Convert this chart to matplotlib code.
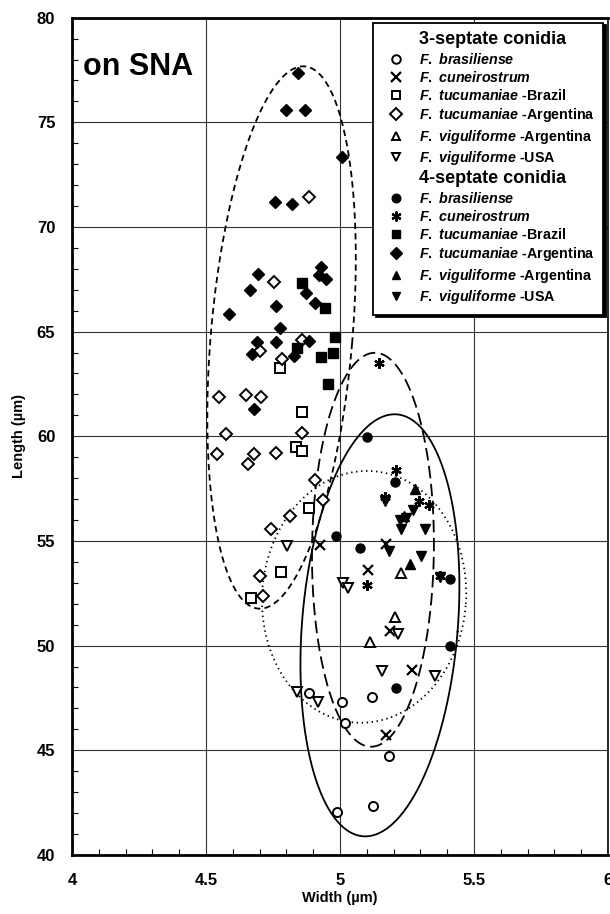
import numpy as np
import matplotlib
matplotlib.use('Agg')
import matplotlib.pyplot as plt
from matplotlib.lines import Line2D

plt.rcParams['font.family'] = ['Liberation Sans', 'DejaVu Sans']
plt.rcParams['font.weight'] = 'bold'
plt.rcParams['mathtext.fontset'] = 'custom'
plt.rcParams['mathtext.it'] = 'Liberation Sans:style=italic:weight=bold'
plt.rcParams['mathtext.rm'] = 'Liberation Sans:weight=bold'
plt.rcParams['lines.scale_dashes'] = False

# 3-septate conidia (open symbols): width, length (um)
bras3_w = [4.885, 5.006, 5.12, 5.02, 5.184, 5.124, 4.99]
bras3_l = [47.72, 47.29, 47.53, 46.28, 44.72, 42.33, 42.06]
cune3_w = [4.925, 5.173, 5.105, 5.185, 5.27, 5.173]
cune3_l = [54.82, 54.85, 53.62, 50.70, 48.84, 45.73]
tucB3_w = [4.777, 4.859, 4.835, 4.86, 4.884, 4.78, 4.668]
tucB3_l = [63.27, 61.15, 59.47, 59.31, 56.57, 53.50, 52.26]
tucA3_w = [4.885, 4.755, 4.70, 4.86, 4.782, 4.549, 4.65, 4.705, 4.574, 4.859,
           4.54, 4.678, 4.658, 4.76, 4.906, 4.935, 4.813, 4.742, 4.701, 4.711]
tucA3_l = [71.44, 67.38, 64.07, 64.60, 63.67, 61.87, 61.95, 61.87, 60.11, 60.18,
           59.15, 59.15, 58.67, 59.20, 57.89, 56.97, 56.20, 55.58, 53.33, 52.37]
vigA3_w = [5.229, 5.204, 5.111]
vigA3_l = [53.46, 51.39, 50.16]
vigU3_w = [4.803, 5.012, 5.03, 5.217, 5.155, 5.353, 4.838, 4.919]
vigU3_l = [54.77, 52.98, 52.74, 50.54, 48.79, 48.57, 47.80, 47.32]

# 4-septate conidia (filled symbols)
bras4_w = [5.099, 5.204, 4.986, 5.074, 5.409, 5.409, 5.208]
bras4_l = [59.97, 57.80, 55.26, 54.66, 53.17, 49.99, 47.99]
cune4_w = [5.146, 5.21, 5.169, 5.294, 5.331, 5.099, 5.372]
cune4_l = [63.49, 58.41, 57.10, 56.89, 56.73, 52.90, 53.35]
tucB4_w = [4.857, 4.943, 4.983, 4.838, 4.975, 4.931, 4.956]
tucB4_l = [67.32, 66.11, 64.74, 64.20, 63.96, 63.78, 62.52]
tucA4_w = [4.844, 4.797, 4.871, 5.009, 4.756, 4.822, 4.695, 4.665, 4.872, 4.93, 4.92,
           4.946, 4.906, 4.585, 4.761, 4.778, 4.69, 4.67, 4.761, 4.885, 4.829, 4.678]
tucA4_l = [77.34, 75.58, 75.58, 73.35, 71.20, 71.09, 67.74, 66.97, 66.86, 68.10, 67.70,
           67.50, 66.36, 65.84, 66.22, 65.18, 64.51, 63.94, 64.51, 64.55, 63.83, 61.31]
vigA4_w = [5.279, 5.26, 5.24]
vigA4_l = [57.48, 53.90, 56.20]
vigU4_w = [5.169, 5.272, 5.248, 5.223, 5.229, 5.316, 5.182, 5.304, 5.372]
vigU4_l = [56.90, 56.50, 56.09, 56.01, 55.58, 55.58, 54.50, 54.26, 53.30]

# ellipses: centre x, centre y, half length, half width (length units), tilt (deg)
ell_short = (4.782, 64.72, 13.0, 3.38, 4.9)
ell_long = (5.123, 54.58, 9.41, 2.91, 0.6)
ell_solid = (5.149, 50.97, 10.11, 3.72, 4.6)
ell_dot = (5.09, 52.33, 6.02, 4.87, 4.0)

K = 268 / 20.94  # pixels per width unit / pixels per length unit


def ellipse_xy(cx, cy, a, b, tilt):
    t = np.linspace(0, 2 * np.pi, 400)
    u = b * np.cos(t)
    v = a * np.sin(t)
    p = np.radians(tilt)
    du = u * np.cos(p) + v * np.sin(p)
    dv = -u * np.sin(p) + v * np.cos(p)
    return cx + du / K, cy + dv


fig = plt.figure(figsize=(6.1, 9.14), dpi=100)
ax = fig.add_axes([0.118, 0.0646, 0.8787, 0.9161])

for spec, ls in [(ell_short, (0, (4.5, 3))), (ell_long, (0, (9, 4))),
                 (ell_solid, '-'), (ell_dot, (0, (1, 2.6)))]:
    ex, ey = ellipse_xy(*spec)
    ax.plot(ex, ey, color='black', lw=1.3, linestyle=ls, zorder=2)

ms = 6.5
open_kw = dict(ls='none', mfc='white', mec='black', mew=1.4, ms=ms, zorder=3)
fill_kw = dict(ls='none', mfc='black', mec='black', mew=1.0, ms=ms, zorder=3)

series = [
    (bras3_w, bras3_l, 'o', open_kw),
    (cune3_w, cune3_l, 'x', open_kw),
    (tucB3_w, tucB3_l, 's', open_kw),
    (tucA3_w, tucA3_l, 'D', open_kw),
    (vigA3_w, vigA3_l, '^', open_kw),
    (vigU3_w, vigU3_l, 'v', open_kw),
    (bras4_w, bras4_l, 'o', fill_kw),
    (cune4_w, cune4_l, (6, 2, 0), fill_kw),
    (tucB4_w, tucB4_l, 's', fill_kw),
    (tucA4_w, tucA4_l, 'D', fill_kw),
    (vigA4_w, vigA4_l, '^', fill_kw),
    (vigU4_w, vigU4_l, 'v', fill_kw),
]
handles = []
for w, l, m, kw in series:
    kk = dict(kw)
    if m == 'D':
        kk['ms'] = 6
    if m == 'x' or m == (6, 2, 0):
        kk['mew'] = 1.6
        kk['ms'] = 7.5
    h, = ax.plot(w, l, marker=m, **kk)
    handles.append(h)

ax.set_xlim(4, 6)
ax.set_ylim(40, 80)
ax.set_xticks([4, 4.5, 5, 5.5, 6])
ax.set_xticklabels(['4', '4.5', '5', '5.5', '6'])
ax.set_yticks(range(40, 81, 5))
ax.set_xticks(np.arange(4, 6.001, 0.1), minor=True)
ax.set_yticks(range(40, 81, 1), minor=True)
ax.tick_params(which='both', direction='in', top=False, right=False)
ax.tick_params(which='major', length=0, labelsize=12)
ax.tick_params(axis='x', which='major', pad=13)
ax.tick_params(axis='y', which='major', pad=12)
ax.tick_params(which='minor', length=4, width=0.8)
ax.grid(True, which='major', color='#333333', lw=0.8)
ax.set_axisbelow(True)
for s in ax.spines.values():
    s.set_linewidth(2)
ax.spines['right'].set_linewidth(1.2)

ax.set_xlabel('Width (µm)', fontsize=10.5, fontweight='bold', labelpad=2)
ax.set_ylabel('Length (µm)', fontsize=10.5, fontweight='bold', labelpad=8)

ax.text(0.02, 0.941, 'on SNA', transform=ax.transAxes, fontsize=22,
        fontweight='bold', va='center', ha='left')

blank = Line2D([], [], ls='none', marker='')
labels = [r'$\mathit{F.\ brasiliense}$', r'$\mathit{F.\ cuneirostrum}$',
          r'$\mathit{F.\ tucumaniae}$ -Brazil', r'$\mathit{F.\ tucumaniae}$ -Argentina',
          r'$\mathit{F.\ viguliforme}$ -Argentina', r'$\mathit{F.\ viguliforme}$ -USA']
leg_h = [blank] + handles[:6] + [blank] + handles[6:]
leg_l = ['3-septate conidia'] + labels + ['4-septate conidia'] + labels
leg = ax.legend(leg_h, leg_l, loc='upper right', bbox_to_anchor=(0.991, 0.994),
                borderaxespad=0, fontsize=10.3, labelspacing=0.23, handlelength=2.0,
                handletextpad=0.6, borderpad=0.6, frameon=True, fancybox=False,
                shadow={'color': 'black', 'alpha': 1.0}, markerscale=0.95)
leg.get_frame().set_edgecolor('black')
leg.get_frame().set_linewidth(1.3)
leg.set_zorder(5)
for i in (0, 7):
    leg.get_texts()[i].set_fontsize(13)

fig.savefig('out.png', dpi=100)
